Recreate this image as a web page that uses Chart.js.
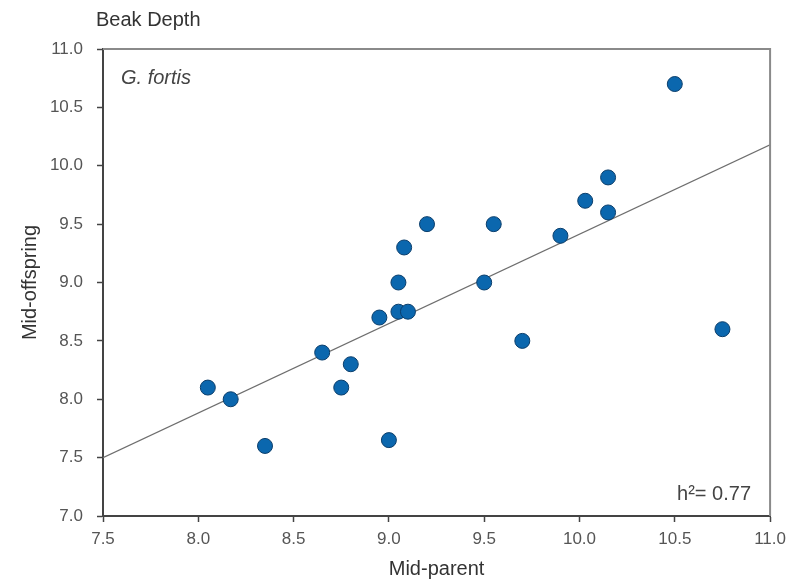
<!DOCTYPE html>
<html>
<head>
<meta charset="utf-8">
<script src="https://cdn.jsdelivr.net/npm/chart.js@4"></script>
<style>
  html, body { margin: 0; padding: 0; background: #fff; }
  #wrap { width: 793px; height: 583px; position: relative; }
</style>
</head>
<body>
<div id="wrap"><canvas id="chart"></canvas></div>
<script>
// mid-parent vs mid-offspring beak depth, G. fortis
const midParent = [8.05, 8.17, 8.35, 8.65, 8.75, 8.8, 8.95, 9.0, 9.05, 9.1, 9.05, 9.08, 9.2, 9.5, 9.55, 9.7, 9.9, 10.03, 10.15, 10.15, 10.5, 10.75];
const midOffspring = [8.1, 8.0, 7.6, 8.4, 8.1, 8.3, 8.7, 7.65, 8.75, 8.75, 9.0, 9.3, 9.5, 9.0, 9.5, 8.5, 9.4, 9.7, 9.6, 9.9, 10.7, 8.6];

// regression line end points
const fitX = [7.5, 11.0];
const fitY = [7.5, 10.18];

const xTicks = [7.5, 8.0, 8.5, 9.0, 9.5, 10.0, 10.5, 11.0];
const yTicks = [7.0, 7.5, 8.0, 8.5, 9.0, 9.5, 10.0, 10.5, 11.0];

const FONT = "'Liberation Sans', Arial, sans-serif";

const textPlugin = {
  id: "extras",
  afterDraw(chart) {
    const { ctx, chartArea: a } = chart;
    ctx.save();
    // top + right frame (lighter than the axes)
    ctx.strokeStyle = "#8a8a8a";
    ctx.lineWidth = 2;
    ctx.beginPath();
    ctx.moveTo(a.left, a.top);
    ctx.lineTo(a.right, a.top);
    ctx.lineTo(a.right, a.bottom);
    ctx.stroke();

    ctx.fillStyle = "#333";
    ctx.textBaseline = "middle";
    ctx.font = "20px " + FONT;
    ctx.textAlign = "left";
    ctx.fillText("Beak Depth", 96, 20);

    ctx.fillStyle = "#444";
    ctx.font = "italic 20px " + FONT;
    ctx.fillText("G. fortis", 121, 78);

    ctx.font = "20px " + FONT;
    ctx.textAlign = "right";
    ctx.fillText("h\u00B2= 0.77", 751, 494);
    ctx.restore();
  }
};

new Chart(document.getElementById("chart"), {
  type: "scatter",
  data: {
    datasets: [
      {
        type: "line",
        data: fitX.map((x, i) => ({ x, y: fitY[i] })),
        borderColor: "#6e6e6e",
        borderWidth: 1.3,
        pointRadius: 0,
        fill: false,
        order: 2
      },
      {
        data: midParent.map((x, i) => ({ x, y: midOffspring[i] })),
        backgroundColor: "#0b67ae",
        borderColor: "#0b3e6b",
        borderWidth: 1,
        pointRadius: 7.5,
        order: 1
      }
    ]
  },
  options: {
    responsive: true,
    maintainAspectRatio: false,
    animation: false,
    layout: { padding: { left: 0, right: 22, top: 49, bottom: 0 } },
    plugins: { legend: { display: false }, tooltip: { enabled: false } },
    scales: {
      x: {
        type: "linear",
        min: 7.5,
        max: 11.0,
        afterFit: (s) => { s.height = 67; },
        afterBuildTicks: (s) => { s.ticks = xTicks.map((v) => ({ value: v })); },
        grid: { drawOnChartArea: false, tickLength: 6, tickColor: "#444", tickWidth: 1.5 },
        border: { color: "#444", width: 2 },
        ticks: {
          color: "#555",
          padding: 7,
          font: { family: FONT, size: 17 },
          callback: (v) => v.toFixed(1)
        },
        title: {
          display: true,
          text: "Mid-parent",
          color: "#333",
          padding: { top: 0, bottom: 2 },
          font: { family: FONT, size: 20 }
        }
      },
      y: {
        type: "linear",
        min: 7.0,
        max: 11.0,
        afterFit: (s) => { s.width = 103; },
        afterBuildTicks: (s) => { s.ticks = yTicks.map((v) => ({ value: v })); },
        grid: { drawOnChartArea: false, tickLength: 6, tickColor: "#444", tickWidth: 1.5 },
        border: { color: "#444", width: 2 },
        ticks: {
          color: "#555",
          padding: 14,
          font: { family: FONT, size: 17 },
          callback: (v) => v.toFixed(1)
        },
        title: {
          display: true,
          text: "Mid-offspring",
          color: "#333",
          padding: { top: 18, bottom: 0 },
          font: { family: FONT, size: 20 }
        }
      }
    }
  },
  plugins: [textPlugin]
});
</script>
</body>
</html>
